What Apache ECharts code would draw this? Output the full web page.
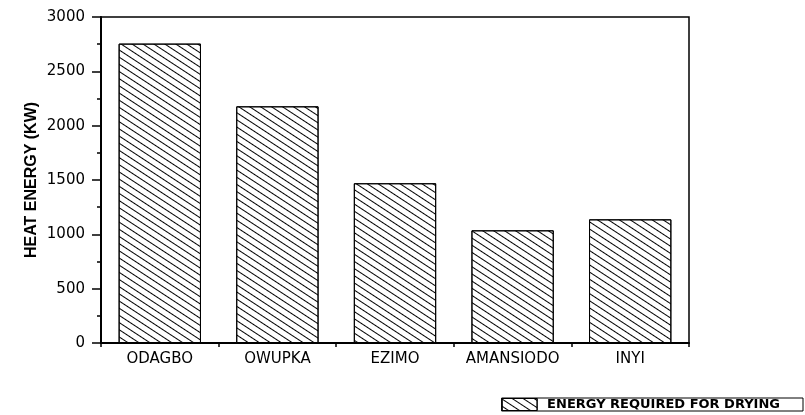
<!DOCTYPE html>
<html>
<head>
<meta charset="utf-8">
<script src="https://cdn.jsdelivr.net/npm/echarts@6/dist/echarts.min.js"></script>
<style>html,body{margin:0;padding:0;background:#fff}#c{width:805px;height:415px}</style>
</head>
<body>
<div id="c"></div>
<script>
var categories = ['ODAGBO', 'OWUPKA', 'EZIMO', 'AMANSIODO', 'INYI'];
var energyValues = [2755, 2178, 1470, 1037, 1138];
var seriesName = 'ENERGY REQUIRED FOR DRYING';
var yAxisTitle = 'HEAT ENERGY (KW)';
var yMin = 0, yMax = 3000, yStep = 500;

var chart = echarts.init(document.getElementById('c'), null, {renderer: 'canvas'});
var tickFont = {fontFamily: 'DejaVu Sans', fontSize: 15, color: '#000'};
var hatch = {
  symbol: 'rect',
  symbolSize: 1,
  color: '#000',
  dashArrayX: [1, 0],
  dashArrayY: [1, 5],
  rotation: 0.58
};
chart.setOption({
  animation: false,
  backgroundColor: '#fff',
  grid: {left: 101, right: 116, top: 17, bottom: 72, show: true, borderColor: '#000', borderWidth: 1.5, backgroundColor: 'transparent'},
  legend: {
    right: 2, top: 398,
    itemWidth: 35, itemHeight: 12,
    padding: [0, 23, 0, 0],
    borderColor: '#000', borderWidth: 1,
    icon: 'rect',
    itemStyle: {borderWidth: 1},
    textStyle: {fontFamily: 'DejaVu Sans', fontWeight: 'bold', fontSize: 13, color: '#000', padding: [0, 0, 0, 5]},
    data: [seriesName]
  },
  xAxis: [{
    type: 'category',
    data: categories,
    position: 'bottom',
    axisLine: {lineStyle: {color: '#000', width: 2}},
    axisTick: {alignWithLabel: true, length: 7, lineStyle: {color: '#000', width: 1.5}},
    axisLabel: Object.assign({margin: 9, interval: 0}, tickFont)
  }, {
    type: 'category',
    data: categories,
    position: 'bottom',
    axisLine: {show: false},
    axisTick: {show: true, length: 4, lineStyle: {color: '#000', width: 1.5}},
    axisLabel: {show: false}
  }],
  yAxis: {
    type: 'value',
    min: yMin, max: yMax, interval: yStep,
    name: yAxisTitle,
    nameLocation: 'middle',
    nameGap: 61,
    nameMoveOverlap: false,
    nameTextStyle: {fontFamily: 'Liberation Sans', fontWeight: 'bold', fontSize: 16, color: '#000'},
    axisLine: {show: true, lineStyle: {color: '#000', width: 2}},
    axisTick: {show: true, length: 9, lineStyle: {color: '#000', width: 1.5}},
    minorTick: {show: true, splitNumber: 2, length: 4, lineStyle: {color: '#000', width: 1.5}},
    splitLine: {show: false},
    axisLabel: Object.assign({margin: 16, formatter: function (v) { return String(v); }}, tickFont)
  },
  series: [{
    name: seriesName,
    type: 'bar',
    data: energyValues,
    barWidth: '70%',
    itemStyle: {color: '#fff', borderColor: '#000', borderWidth: 1, decal: hatch}
  }]
});
</script>
</body>
</html>
